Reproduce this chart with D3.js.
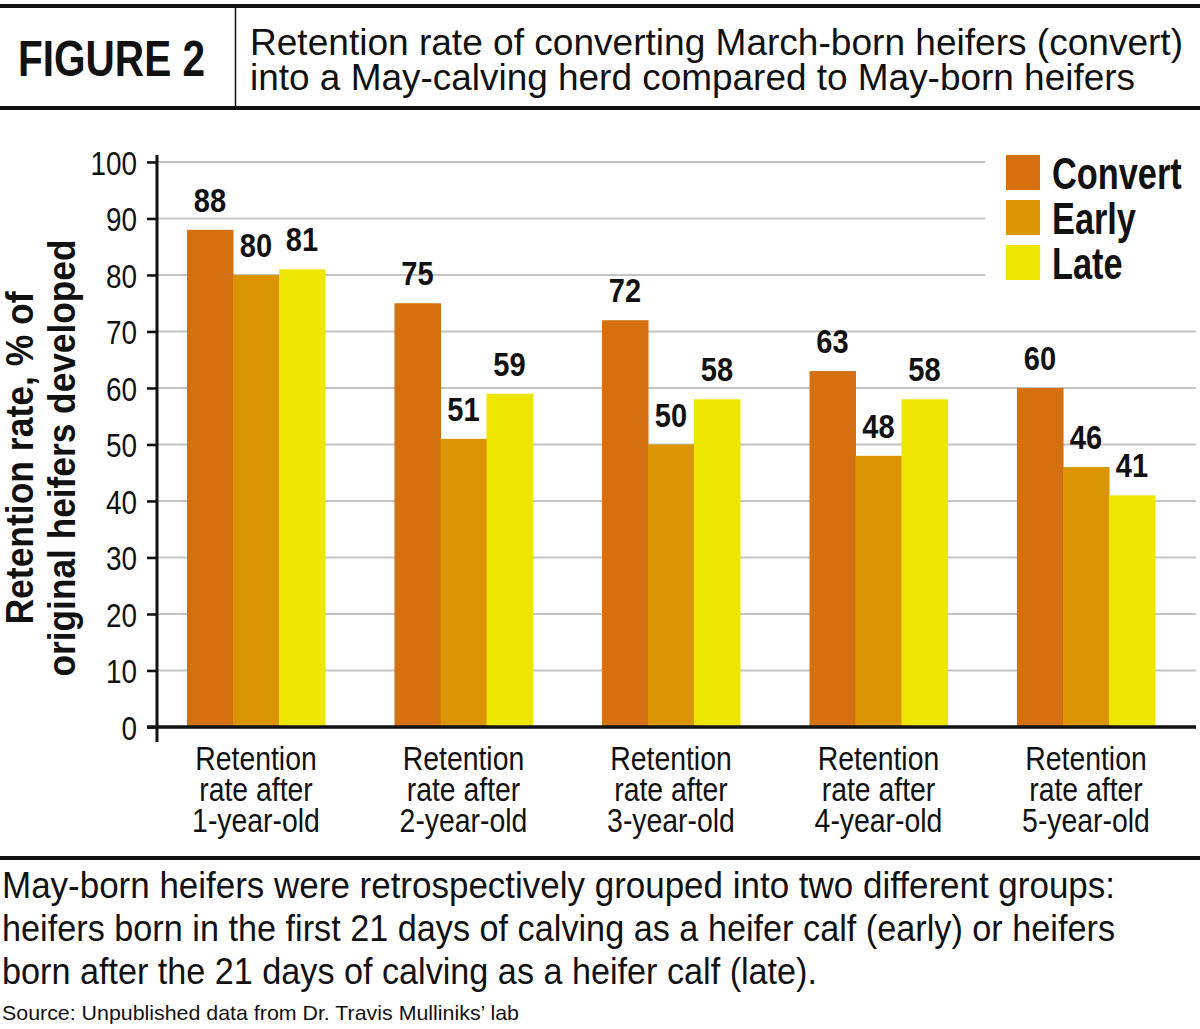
<!DOCTYPE html>
<html>
<head>
<meta charset="utf-8">
<script src="https://cdn.jsdelivr.net/npm/d3@7"></script>
<style>
  body { margin: 0; background: #fff; }
  svg { display: block; }
</style>
</head>
<body>
<svg id="chart" width="1200" height="1029"></svg>
<script>
// chart data
const categories = ['1-year-old', '2-year-old', '3-year-old', '4-year-old', '5-year-old'];
const seriesNames = ['Convert', 'Early', 'Late'];
const convertValues = [88, 75, 72, 63, 60];
const earlyValues = [80, 51, 50, 48, 46];
const lateValues = [81, 59, 58, 58, 41];
const yTicks = [0, 10, 20, 30, 40, 50, 60, 70, 80, 90, 100];
const colors = ['#d4700f', '#db9502', '#eee600'];

const titleLines = [
  'Retention rate of converting March-born heifers (convert)',
  'into a May-calving herd compared to May-born heifers'
];
const noteLines = [
  'May-born heifers were retrospectively grouped into two different groups:',
  'heifers born in the first 21 days of calving as a heifer calf (early) or heifers',
  'born after the 21 days of calving as a heifer calf (late).'
];

const seriesValues = [convertValues, earlyValues, lateValues];
const FONT = '"Liberation Sans", Arial, sans-serif';

// squeeze text horizontally to mimic the condensed face of the original
function condense(sel, k) {
  sel.each(function () {
    const w = this.getComputedTextLength();
    d3.select(this).attr('textLength', w * k).attr('lengthAdjust', 'spacingAndGlyphs');
  });
}

const svg = d3.select('#chart');

// header block
svg.append('rect').attr('x', 0).attr('y', 4).attr('width', 1200).attr('height', 4).attr('fill', '#111');
svg.append('rect').attr('x', 0).attr('y', 106).attr('width', 1200).attr('height', 4).attr('fill', '#111');
svg.append('line').attr('x1', 235.5).attr('x2', 235.5).attr('y1', 8).attr('y2', 106)
  .attr('stroke', '#111').attr('stroke-width', 1.5);

svg.append('text')
  .attr('x', 18).attr('y', 76)
  .attr('font-family', FONT).attr('font-weight', 'bold').attr('font-size', 50)
  .attr('textLength', 187).attr('lengthAdjust', 'spacingAndGlyphs')
  .attr('fill', '#111')
  .text('FIGURE 2');

const titleWidths = [933, 885];
titleLines.forEach((t, i) => {
  svg.append('text')
    .attr('x', 250).attr('y', 55 + i * 35)
    .attr('font-family', FONT).attr('font-size', 36)
    .attr('textLength', titleWidths[i]).attr('lengthAdjust', 'spacingAndGlyphs')
    .attr('fill', '#111')
    .text(t);
});

// scales
const y = d3.scaleLinear().domain([0, 100]).range([727, 162]);
const x0 = d3.scaleBand().domain(categories).range([152.25, 1189.75])
  .paddingInner(0.335).paddingOuter(0.1675);
const x1 = d3.scaleBand().domain(seriesNames).range([0, x0.bandwidth()]);

// gridlines
svg.append('g')
  .selectAll('line')
  .data(yTicks.filter(d => d > 0))
  .join('line')
  .attr('x1', 147).attr('x2', 1196)
  .attr('y1', d => y(d)).attr('y2', d => y(d))
  .attr('stroke', '#c4c4c4').attr('stroke-width', 2);

// bars
const groups = svg.append('g')
  .selectAll('g')
  .data(categories)
  .join('g')
  .attr('transform', d => `translate(${x0(d)},0)`);

groups.selectAll('rect')
  .data((d, i) => seriesNames.map((s, j) => ({ s, j, v: seriesValues[j][i] })))
  .join('rect')
  .attr('x', d => x1(d.s))
  .attr('width', x1.bandwidth() + 0.5)
  .attr('y', d => y(d.v))
  .attr('height', d => y(0) - y(d.v))
  .attr('fill', d => colors[d.j]);

groups.selectAll('text')
  .data((d, i) => seriesNames.map((s, j) => ({ s, j, v: seriesValues[j][i] })))
  .join('text')
  .attr('x', d => x1(d.s) + x1.bandwidth() / 2)
  .attr('y', d => y(d.v) - 18)
  .attr('text-anchor', 'middle')
  .attr('font-family', FONT).attr('font-weight', 'bold').attr('font-size', 33)
  .attr('fill', '#111')
  .text(d => d.v)
  .call(condense, 0.88);

// y axis
const yAxis = svg.append('g')
  .attr('transform', 'translate(157,0)')
  .call(d3.axisLeft(y).tickValues(yTicks).tickSize(10).tickPadding(10));
yAxis.select('.domain').remove();
yAxis.selectAll('.tick line').attr('stroke', '#111').attr('stroke-width', 2.5);
yAxis.selectAll('.tick text')
  .attr('font-family', FONT).attr('font-size', 34).attr('fill', '#111')
  .attr('dy', '0.36em')
  .call(condense, 0.82);

svg.append('line').attr('x1', 157).attr('x2', 157).attr('y1', 155).attr('y2', 742)
  .attr('stroke', '#111').attr('stroke-width', 3);
svg.append('line').attr('x1', 147).attr('x2', 1196).attr('y1', 727).attr('y2', 727)
  .attr('stroke', '#111').attr('stroke-width', 3.5);

// category labels, three lines each
const catLines = categories.flatMap(c => ['Retention', 'rate after', c].map((t, i) => ({ c, t, i })));
svg.append('g')
  .selectAll('text')
  .data(catLines)
  .join('text')
  .attr('x', d => x0(d.c) + x0.bandwidth() / 2)
  .attr('y', d => 770 + d.i * 31)
  .attr('text-anchor', 'middle')
  .attr('font-family', FONT).attr('font-size', 33)
  .attr('fill', '#111')
  .text(d => d.t)
  .call(condense, 0.86);

// y axis title
const yTitle = svg.append('g').attr('transform', 'translate(0,458) rotate(-90)');
yTitle.append('text').attr('x', 0).attr('y', 33)
  .attr('text-anchor', 'middle')
  .attr('font-family', FONT).attr('font-weight', 'bold').attr('font-size', 38)
  .attr('textLength', 333).attr('lengthAdjust', 'spacingAndGlyphs')
  .attr('fill', '#111')
  .text('Retention rate, % of');
yTitle.append('text').attr('x', 0).attr('y', 75)
  .attr('text-anchor', 'middle')
  .attr('font-family', FONT).attr('font-weight', 'bold').attr('font-size', 38)
  .attr('textLength', 437).attr('lengthAdjust', 'spacingAndGlyphs')
  .attr('fill', '#111')
  .text('original heifers developed');

// legend
const legend = svg.append('g');
legend.append('rect').attr('x', 985).attr('y', 148).attr('width', 215).attr('height', 140).attr('fill', '#fff');
const legendItems = legend.selectAll('g')
  .data(seriesNames)
  .join('g')
  .attr('transform', (d, i) => `translate(1006,${155 + i * 45})`);
legendItems.append('rect')
  .attr('width', 34).attr('height', 35)
  .attr('fill', (d, i) => colors[i]);
legendItems.append('text')
  .attr('x', 46).attr('y', 34)
  .attr('font-family', FONT).attr('font-weight', 'bold').attr('font-size', 44)
  .attr('fill', '#111')
  .text(d => d)
  .call(condense, 0.78);

// note block
svg.append('rect').attr('x', 0).attr('y', 856).attr('width', 1200).attr('height', 4).attr('fill', '#111');
const noteWidths = [1113, 1113, 815];
noteLines.forEach((t, i) => {
  svg.append('text')
    .attr('x', 2).attr('y', 898 + i * 43)
    .attr('font-family', FONT).attr('font-size', 37)
    .attr('textLength', noteWidths[i]).attr('lengthAdjust', 'spacingAndGlyphs')
    .attr('fill', '#111')
    .text(t);
});
svg.append('text')
  .attr('x', 2).attr('y', 1020)
  .attr('font-family', FONT).attr('font-size', 21)
  .attr('textLength', 517).attr('lengthAdjust', 'spacingAndGlyphs')
  .attr('fill', '#111')
  .text('Source: Unpublished data from Dr. Travis Mulliniks\u2019 lab');
</script>
</body>
</html>
